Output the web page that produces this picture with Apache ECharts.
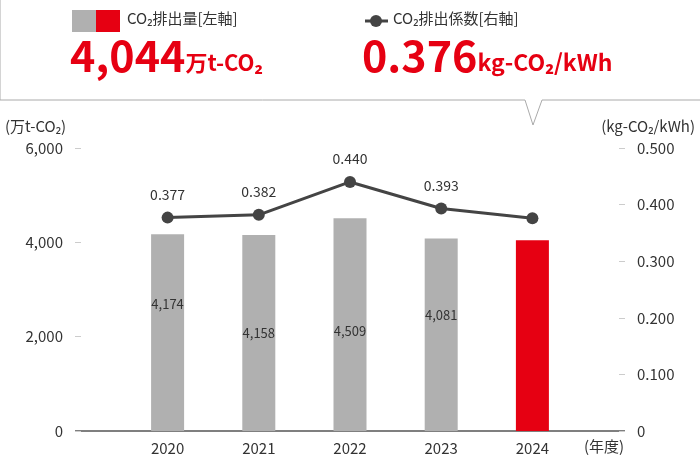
<!DOCTYPE html><html><head><meta charset="utf-8"><script src="https://cdn.jsdelivr.net/npm/echarts@6/dist/echarts.min.js"></script>
<style>body{margin:0}#c{width:700px;height:456px}</style></head><body><div id="c"></div><script>
const years=['2020','2021','2022','2023','2024'];
const emissions=[4174,4158,4509,4081,4044];
const factor=[0.377,0.382,0.440,0.393,0.376];
const leftTicks=[0,2000,4000,6000];
const labelShift=[-29,0,6,-20,0];
const F='"Noto Sans CJK JP","Noto Sans",sans-serif';
const ch=echarts.init(document.getElementById('c'));
ch.setOption({
 textStyle:{fontFamily:F},
 animation:false,
 grid:{left:122,right:122,top:148,bottom:25},
 xAxis:{type:'category',data:years,axisLine:{show:false},axisTick:{show:false},
  axisLabel:{color:'#333',fontSize:15,margin:10,fontFamily:F}},
 yAxis:[{type:'value',min:0,max:6000,interval:2000,offset:47,
  axisLabel:{color:'#333',fontSize:15,margin:12,formatter:v=>v.toLocaleString('en-US'),fontFamily:F},
  axisTick:{show:true,length:6,inside:true,lineStyle:{color:'#ccc'}},axisLine:{show:false},splitLine:{show:false}},
  {type:'value',min:0,max:0.5,interval:0.1,offset:47,
  axisLabel:{color:'#333',fontSize:15,margin:12,formatter:v=>v===0?'0':v.toFixed(3),fontFamily:F},
  axisTick:{show:true,length:6,inside:true,lineStyle:{color:'#ccc'}},axisLine:{show:false},splitLine:{show:false}}],
 series:[{type:'bar',data:emissions.map((v,i)=>({value:v,itemStyle:{color:i===4?'#e60012':'#b0b0b0'},
   label:{show:i!==4,offset:[0,labelShift[i]]}})),barWidth:33,
   label:{position:'inside',color:'#333',fontSize:13,formatter:p=>p.value.toLocaleString('en-US')}},
  {type:'line',yAxisIndex:1,data:factor.map((v,i)=>({value:v,label:{show:i!==4}})),symbol:'circle',symbolSize:12,
   lineStyle:{color:'#444',width:3},itemStyle:{color:'#444'},
   label:{position:'top',distance:10,color:'#333',fontSize:14,formatter:p=>p.value.toFixed(3)}}],
 graphic:[
  {type:'polyline',shape:{points:[[0,0],[0,100],[525,100],[533,125],[542,100],[700,100]]},style:{stroke:'#aaa',fill:null,lineWidth:1}},
  {type:'line',shape:{x1:75,y1:431,x2:625,y2:431},style:{stroke:'#555',lineWidth:1.5}},
  {type:'rect',shape:{x:72,y:10,width:24,height:22},style:{fill:'#b0b0b0'}},
  {type:'rect',shape:{x:96,y:10,width:24,height:22},style:{fill:'#e60012'}},
  {type:'text',left:127,top:11,style:{text:'CO₂排出量[左軸]',fontSize:15,fill:'#333',fontFamily:F}},
  {type:'text',left:70,top:34,style:{rich:{a:{fontSize:43,fontWeight:'bold',fill:'#e60012',fontFamily:F},b:{fontSize:22,fontWeight:'bold',fill:'#e60012',fontFamily:F,padding:[14,0,0,0]}},text:'{a|4,044}{b|万t-CO₂}'}},
  {type:'line',shape:{x1:365,y1:21,x2:388,y2:21},style:{stroke:'#444',lineWidth:3}},
  {type:'circle',shape:{cx:376,cy:21,r:6},style:{fill:'#444'}},
  {type:'text',left:393,top:11,style:{text:'CO₂排出係数[右軸]',fontSize:15,fill:'#333',fontFamily:F}},
  {type:'text',left:362,top:34,style:{rich:{a:{fontSize:43,fontWeight:'bold',fill:'#e60012',fontFamily:F},b:{fontSize:23,fontWeight:'bold',fill:'#e60012',fontFamily:F,padding:[14,0,0,0]}},text:'{a|0.376}{b|kg-CO₂/kWh}'}},
  {type:'text',left:5,top:119,style:{text:'(万t-CO₂)',fontSize:15,fill:'#333',fontFamily:F}},
  {type:'text',right:5,top:119,style:{text:'(kg-CO₂/kWh)',fontSize:15,fill:'#333',fontFamily:F}},
  {type:'text',left:584,top:439,style:{text:'(年度)',fontSize:15,fill:'#333',fontFamily:F}}
 ]
});
</script></body></html>
